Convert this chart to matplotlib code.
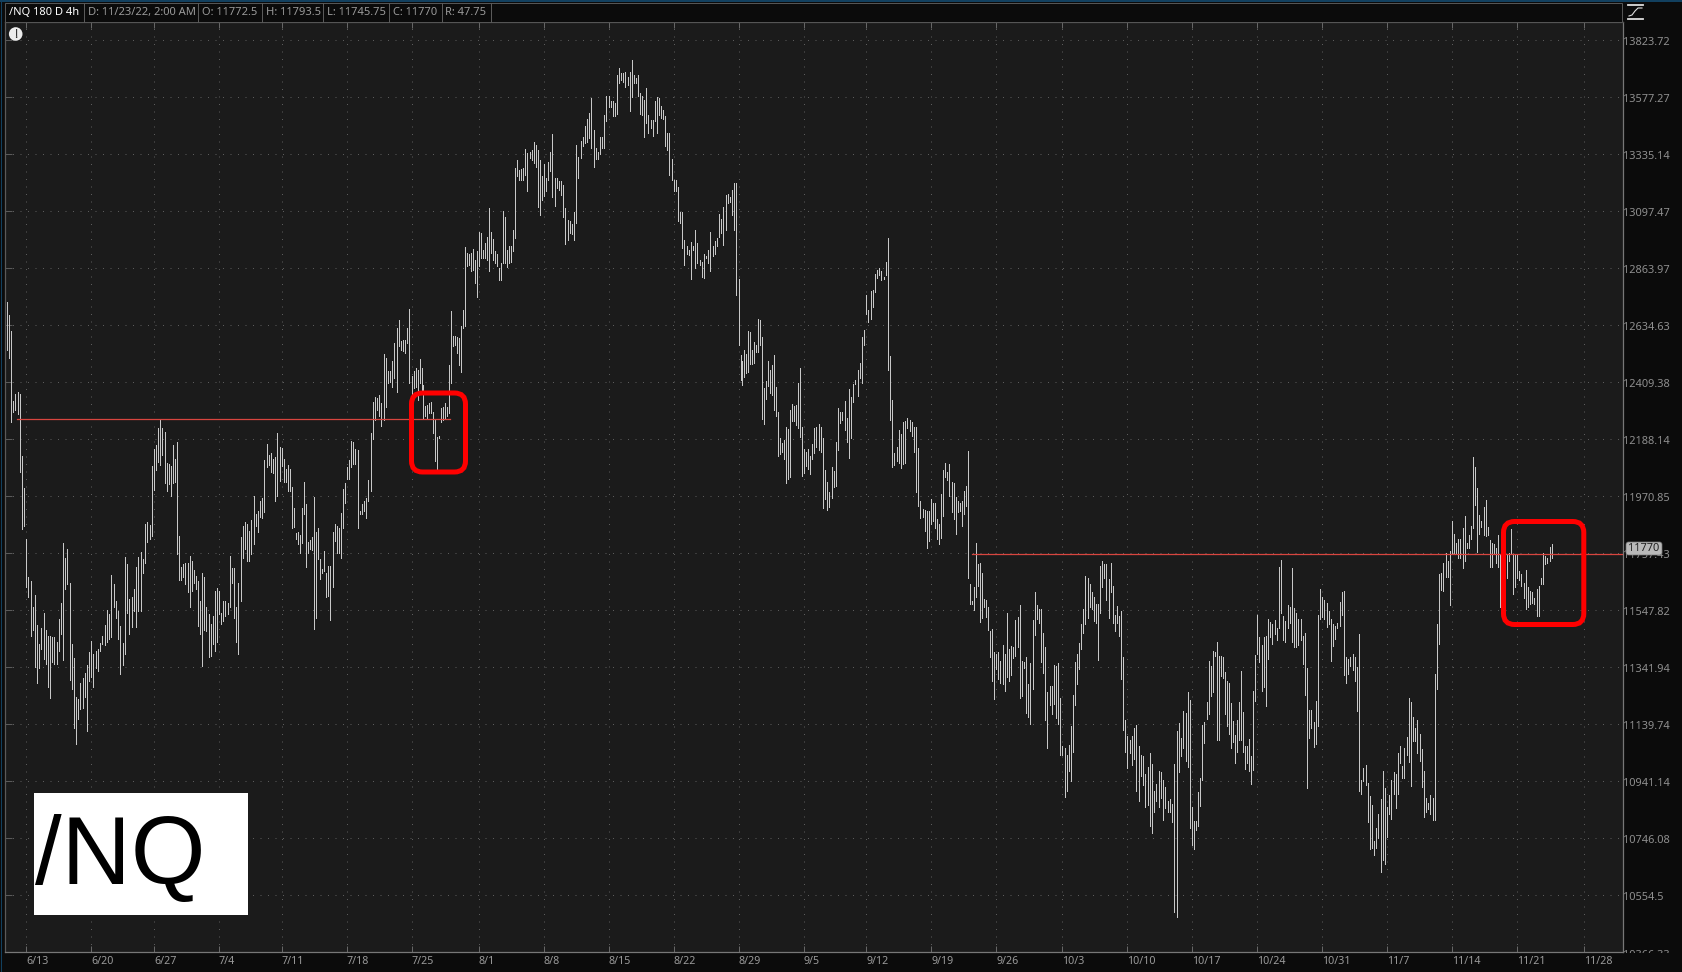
import matplotlib
matplotlib.use("Agg")
from matplotlib import pyplot as plt
from matplotlib import transforms
from matplotlib.lines import Line2D
from matplotlib.patches import Circle, FancyBboxPatch, Rectangle
from matplotlib.transforms import Bbox, ScaledTranslation

W, H = 1683, 972

# (high, low) of the 4h bars, one list per week
bars_pre = [(12727, 12537), (12676, 12504), (12613, 12254), (12336, 12295), (12364, 12302), (12372, 12286),
            (12364, 12063), (12123, 11846), (12002, 11859)]
bars_0613 = [(11810, 11631), (11670, 11595), (11656, 11456), (11560, 11476), (11604, 11343), (11494, 11284),
             (11426, 11341), (11483, 11408), (11536, 11371), (11476, 11355), (11456, 11270), (11456, 11234),
             (11452, 11359), (11450, 11355), (11432, 11353), (11516, 11399), (11574, 11462), (11795, 11368),
             (11739, 11625), (11772, 11643), (11646, 11296), (11426, 11266), (11374, 11128), (11236, 11069),
             (11228, 11160), (11287, 11193), (11305, 11196), (11323, 11236), (11350, 11116), (11397, 11292)]
bars_0620 = [(11437, 11307), (11389, 11272), (11401, 11341), (11407, 11329), (11428, 11399), (11456, 11426),
             (11495, 11423), (11548, 11432), (11533, 11444), (11676, 11452), (11643, 11558), (11582, 11521),
             (11545, 11444), (11491, 11319), (11429, 11350), (11743, 11389), (11716, 11536), (11588, 11462),
             (11595, 11486), (11625, 11545), (11706, 11486), (11743, 11545), (11763, 11545), (11735, 11683),
             (11866, 11723), (11873, 11801), (11863, 11810), (12085, 11823)]
bars_0627 = [(12149, 11995), (12165, 12069), (12231, 12101), (12263, 12089), (12231, 12127), (12214, 12020),
             (12098, 11991), (12095, 12017), (12085, 11970), (12166, 12020), (12114, 12024), (12176, 11754),
             (11820, 11658), (11708, 11658), (11716, 11668), (11723, 11643), (11723, 11613), (11747, 11560),
             (11729, 11619), (11694, 11649), (11673, 11625), (11656, 11491), (11582, 11460), (11684, 11347),
             (11670, 11476), (11558, 11474), (11533, 11378), (11497, 11382), (11527, 11426), (11619, 11399),
             (11628, 11432)]
bars_0704 = [(11619, 11533), (11539, 11497), (11582, 11509), (11582, 11527), (11576, 11533), (11747, 11558),
             (11704, 11649), (11704, 11521), (11560, 11432), (11649, 11389), (11816, 11582), (11860, 11741),
             (11875, 11772), (11866, 11729), (11841, 11729), (11881, 11754), (11972, 11791), (11904, 11858),
             (11916, 11835), (11951, 11891), (11966, 11889), (12108, 11910), (12170, 12080), (12127, 12089),
             (12134, 12063), (12114, 12057), (12121, 11951), (12211, 11972), (12160, 12030)]
bars_0711 = [(12153, 12085), (12114, 12024), (12075, 12024), (12088, 11992), (12075, 11992), (12007, 11850),
             (11928, 11856), (11833, 11810), (11835, 11791), (11825, 11757), (11928, 11797), (12024, 11903),
             (11941, 11708), (11801, 11757), (11808, 11772), (11816, 11769), (11968, 11478), (11835, 11521),
             (11853, 11735), (11735, 11662), (11698, 11686), (11766, 11692), (11686, 11598), (11710, 11600),
             (11710, 11511), (11835, 11631), (11866, 11803), (11860, 11760), (11853, 11760), (11909, 11739),
             (11998, 11853), (12021, 11947)]
bars_0718 = [(12082, 12037), (12110, 12037), (12183, 12082), (12179, 12095), (12149, 12095), (12147, 11853),
             (11916, 11903), (11941, 11903), (11953, 11916), (11966, 11888), (12034, 11951), (12211, 11989),
             (12333, 12188), (12353, 12263), (12346, 12301), (12359, 12276), (12327, 12240), (12520, 12263),
             (12504, 12314), (12452, 12408), (12452, 12412), (12491, 12390), (12564, 12425), (12623, 12373),
             (12656, 12551), (12570, 12537), (12577, 12531), (12577, 12524), (12623, 12564), (12698, 12405)]
bars_0725 = [(12434, 12353), (12452, 12386), (12465, 12392), (12458, 12340), (12500, 12405), (12465, 12373),
             (12399, 12266), (12316, 12276), (12320, 12266), (12327, 12288), (12333, 12288), (12295, 12211),
             (12263, 12105), (12198, 12069), (12201, 12192), (12307, 12256), (12314, 12263), (12330, 12269),
             (12314, 12276), (12478, 12288), (12692, 12405), (12590, 12551), (12590, 12557), (12587, 12524),
             (12584, 12478), (12630, 12448), (12696, 12623), (12949, 12630), (12925, 12871), (12922, 12878),
             (12925, 12851), (12941, 12857), (12898, 12804), (12935, 12747)]
bars_0801 = [(13011, 12871), (13007, 12905), (12939, 12905), (12966, 12905), (12993, 12898), (13110, 12851),
             (13011, 12925), (12982, 12898), (12932, 12884), (12922, 12871), (12864, 12817), (12884, 12815),
             (13097, 12884), (13075, 12884), (12939, 12867), (12953, 12884), (12953, 12891), (13018, 12932),
             (13277, 12989), (13311, 13242), (13269, 13225), (13272, 13228), (13277, 13228), (13358, 13249),
             (13339, 13183), (13346, 13318), (13353, 13311), (13385, 13297), (13375, 13283), (13353, 13116),
             (13311, 13082), (13242, 13144)]
bars_0808 = [(13293, 13161), (13235, 13179), (13304, 13228), (13346, 13263), (13421, 13158), (13235, 13119),
             (13235, 13193), (13221, 13186), (13224, 13165), (13204, 13075), (13110, 12961), (13059, 12979),
             (13055, 13007), (13045, 13004), (13092, 12979), (13375, 13048), (13325, 13235), (13389, 13318),
             (13407, 13368), (13455, 13382), (13483, 13385), (13509, 13403), (13573, 13361), (13438, 13283),
             (13361, 13314), (13346, 13314), (13407, 13336), (13407, 13361), (13499, 13361), (13580, 13474)]
bars_0815 = [(13580, 13537), (13559, 13537), (13559, 13498), (13552, 13495), (13672, 13506), (13704, 13636),
             (13682, 13651), (13679, 13643), (13686, 13622), (13665, 13630), (13685, 13520), (13738, 13577),
             (13672, 13636), (13658, 13636), (13672, 13580), (13597, 13506), (13580, 13502), (13566, 13407),
             (13615, 13467), (13502, 13424), (13481, 13445), (13481, 13410), (13559, 13474), (13577, 13424),
             (13573, 13502), (13540, 13488), (13523, 13484), (13498, 13368), (13424, 13353), (13424, 13249),
             (13314, 13228)]
bars_0822 = [(13228, 13179), (13225, 13179), (13197, 13055), (13092, 13048), (13092, 12946), (12979, 12875),
             (12953, 12922), (12939, 12919), (12969, 12821), (12953, 12939), (13021, 12864), (12966, 12884),
             (12898, 12878), (12891, 12830), (12922, 12823), (12912, 12905), (12939, 12884), (13011, 12851),
             (12953, 12912), (12973, 12922), (12987, 12953), (13086, 12991), (13066, 13007), (13116, 12960),
             (13165, 13021), (13168, 13130), (13158, 13137), (13184, 13080), (13215, 13020), (13215, 12757)]
bars_0829 = [(12820, 12557), (12517, 12418), (12493, 12399), (12537, 12431), (12520, 12445), (12613, 12448),
             (12609, 12482), (12537, 12482), (12568, 12484), (12557, 12530), (12660, 12530), (12656, 12557),
             (12587, 12267), (12386, 12247), (12414, 12343), (12493, 12396), (12458, 12366), (12478, 12360),
             (12517, 12302), (12389, 12276), (12295, 12123), (12192, 12131), (12172, 12140), (12185, 12114),
             (12237, 12022), (12227, 12037), (12302, 12043), (12326, 12257), (12317, 12257), (12319, 12244),
             (12405, 12231), (12464, 12198), (12237, 12046)]
bars_0905 = [(12150, 12060), (12140, 12086), (12150, 12073), (12123, 12056), (12170, 12112), (12231, 12134),
             (12237, 12160), (12246, 12147), (12237, 12140), (12192, 11928), (12069, 11962), (12024, 11918),
             (11988, 11931), (12080, 11966), (12067, 12005), (12179, 12011), (12308, 12147), (12295, 12250),
             (12295, 12263), (12337, 12225), (12270, 12176), (12383, 12117), (12353, 12192), (12401, 12334),
             (12418, 12402), (12458, 12357), (12484, 12425), (12586, 12408), (12616, 12557)]
bars_0912 = [(12757, 12680), (12696, 12649), (12770, 12660), (12777, 12707), (12840, 12766), (12857, 12824),
             (12864, 12837), (12851, 12817), (12830, 12820), (12891, 12837), (12985, 12458), (12513, 12263),
             (12341, 12083), (12134, 12089), (12157, 12106), (12225, 12096), (12209, 12079), (12254, 12093),
             (12257, 12096), (12270, 12231), (12263, 12218), (12254, 12202), (12237, 12140), (12234, 11985),
             (12153, 11934), (11953, 11889), (11922, 11891), (11918, 11841), (11916, 11778), (11916, 11803)]
bars_0919 = [(11960, 11866), (11947, 11879), (11947, 11851), (11886, 11810), (11866, 11791), (11978, 11813),
             (12069, 11897), (12096, 12043), (12063, 12032), (12092, 11972), (12024, 11913), (12022, 11884),
             (11968, 11828), (11953, 11910), (11947, 11916), (11953, 11860), (11989, 11903), (12011, 11934),
             (12142, 11666), (11644, 11570), (11582, 11570), (11634, 11548), (11795, 11595), (11717, 11637),
             (11720, 11506), (11684, 11519), (11588, 11558), (11585, 11524), (11560, 11476), (11472, 11377),
             (11480, 11294), (11395, 11228)]
bars_0926 = [(11389, 11335), (11397, 11300), (11365, 11284), (11422, 11282), (11389, 11256), (11537, 11308),
             (11407, 11292), (11419, 11315), (11413, 11374), (11512, 11383), (11524, 11413), (11566, 11231),
             (11365, 11240), (11359, 11341), (11379, 11180), (11282, 11166), (11356, 11139), (11513, 11266),
             (11615, 11457), (11566, 11516), (11552, 11500), (11552, 11359), (11465, 11323), (11415, 11156),
             (11255, 11056), (11276, 11209), (11274, 11177), (11350, 11211), (11347, 11163), (11356, 11142),
             (11234, 11032)]
bars_1003 = [(11065, 11032), (11056, 10887), (11032, 10906), (11067, 10977), (11132, 10942), (11243, 11044),
             (11359, 11206), (11389, 11282), (11428, 11335), (11496, 11407), (11552, 11464), (11674, 11496),
             (11665, 11521), (11643, 11558), (11615, 11552), (11597, 11510), (11570, 11503), (11570, 11367),
             (11711, 11539), (11729, 11631), (11717, 11665), (11717, 11585), (11664, 11521), (11720, 11613),
             (11636, 11503), (11530, 11472), (11563, 11503), (11527, 11455), (11545, 11300), (11379, 11121),
             (11155, 11043)]
bars_1010 = [(11098, 10987), (11086, 11039), (11098, 10998), (11128, 11018), (11136, 10908), (11065, 10874),
             (11033, 10960), (11030, 10930), (10968, 10851), (10991, 10860), (11040, 10788), (11002, 10765),
             (10908, 10834), (10931, 10874), (10977, 10851), (10973, 10885), (10944, 10808), (10922, 10849),
             (10874, 10837), (10879, 10834), (10862, 10803), (11000, 10500), (11117, 10483), (11144, 10973),
             (11092, 11030), (11187, 11057), (11181, 11010), (11255, 10989), (11225, 10782)]
bars_1017 = [(10851, 10723), (10805, 10711), (10805, 10773), (10905, 10788), (10951, 10857), (11136, 10947),
             (11148, 11075), (11219, 11160), (11365, 11177), (11347, 11238), (11401, 11253), (11395, 11383),
             (11433, 11086), (11383, 11083), (11383, 11311), (11379, 11305), (11326, 11175), (11292, 11134),
             (11284, 11105), (11213, 11056), (11152, 11077), (11103, 11005), (11155, 11042), (11219, 11086),
             (11328, 11086), (11183, 11042), (11065, 10983), (11065, 11005), (11089, 10975), (11030, 10933),
             (11258, 10979), (11386, 11223)]
bars_1024 = [(11530, 11389), (11451, 11361), (11421, 11258), (11451, 11273), (11455, 11205), (11515, 11373),
             (11505, 11449), (11497, 11427), (11512, 11461), (11482, 11439), (11708, 11485), (11733, 11539),
             (11527, 11441), (11509, 11433), (11566, 11485), (11558, 11503), (11703, 11433), (11555, 11415),
             (11538, 11415), (11515, 11421), (11515, 11439), (11455, 11355), (11464, 11244), (11341, 10919),
             (11191, 11093), (11190, 11128), (11146, 11061), (11223, 11072), (11531, 11134), (11626, 11515)]
bars_1031 = [(11596, 11524), (11584, 11515), (11575, 11488), (11546, 11497), (11515, 11365), (11497, 11419),
             (11491, 11445), (11500, 11482), (11577, 11489), (11613, 11531), (11619, 11315), (11379, 11287),
             (11371, 11317), (11379, 11347), (11389, 11333), (11379, 11294), (11343, 11187), (11463, 10907),
             (10944, 10898), (10986, 10942), (10997, 10927), (10934, 10803), (10890, 10710), (10858, 10713),
             (10737, 10690), (10780, 10714), (10828, 10748), (10879, 10634), (10976, 10673), (10917, 10659)]
bars_1107 = [(10851, 10750), (10893, 10828), (10944, 10813), (10973, 10896), (10967, 10848), (11038, 10896),
             (11063, 11003), (10994, 10951), (11056, 10954), (11094, 11032), (11232, 11009), (11219, 10925),
             (11166, 11081), (11125, 11081), (11156, 11040), (11107, 11012), (11052, 10921), (10977, 10819),
             (10885, 10834), (10868, 10845), (10893, 10828), (10885, 10808), (11317, 10808), (11497, 11265),
             (11681, 11425), (11685, 11622), (11720, 11619), (11760, 11669), (11730, 11669), (11766, 11568)]
bars_1114 = [(11878, 11753), (11828, 11753), (11797, 11753), (11810, 11739), (11810, 11741), (11851, 11701),
             (11897, 11727), (11795, 11778), (11825, 11778), (11860, 11810), (12118, 11850), (12082, 11938),
             (12002, 11762), (11901, 11828), (11878, 11856), (11932, 11825), (11956, 11821), (11857, 11825),
             (11807, 11705), (11797, 11707), (11791, 11753), (11776, 11723), (11825, 11705), (11753, 11558),
             (11766, 11527), (11760, 11710), (11751, 11666), (11760, 11729), (11847, 11753), (11753, 11607),
             (11751, 11631)]
bars_1121 = [(11753, 11666), (11691, 11660), (11679, 11637), (11647, 11594), (11697, 11552), (11631, 11558),
             (11619, 11570), (11613, 11576), (11594, 11570), (11625, 11527), (11637, 11527), (11666, 11643),
             (11757, 11643), (11747, 11719), (11741, 11722), (11781, 11729), (11791, 11741)]

week_labels = ["6/13", "6/20", "6/27", "7/4", "7/11", "7/18", "7/25", "8/1", "8/8", "8/15", "8/22", "8/29", "9/5",
               "9/12", "9/19", "9/26", "10/3", "10/10", "10/17", "10/24", "10/31", "11/7", "11/14", "11/21", "11/28"]
week_bars = [30, 29, 30, 29, 30, 30, 31, 30, 30, 30, 30, 30, 29, 30, 30, 30.6, 30, 30, 30, 30, 30, 30, 30, 31]

price_ticks = [13823.72, 13577.27, 13335.14, 13097.47, 12863.97, 12634.63, 12409.38, 12188.14, 11970.85,
               11757.43, 11547.82, 11341.94, 11139.74, 10941.14, 10746.08, 10554.5]
price_labels = ["13823.72", "13577.27", "13335.14", "13097.47", "12863.97", "12634.63", "12409.38", "12188.14",
                "11970.85", "11757.43", "11547.82", "11341.94", "11139.74", "10941.14", "10746.08", "10554.5"]
last_label = "10366.33"
last_price = "11770"

level_left = 12265
level_right = 11754

header = [("/NQ 180 D 4h", 9), ("D: 11/23/22, 2:00 AM", 88), ("O: 11772.5", 202), ("H: 11793.5", 266),
          ("L: 11745.75", 327), ("C: 11770", 393), ("R: 47.75", 445)]
header_edges = [84, 198, 262, 323, 389, 442, 490.7]

all_weeks = [bars_0613, bars_0620, bars_0627, bars_0704, bars_0711, bars_0718, bars_0725, bars_0801, bars_0808,
             bars_0815, bars_0822, bars_0829, bars_0905, bars_0912, bars_0919, bars_0926, bars_1003, bars_1010,
             bars_1017, bars_1024, bars_1031, bars_1107, bars_1114, bars_1121]

fig = plt.figure(figsize=(W / 100, H / 100), dpi=100, facecolor="#0b0b0b")
plt.rcParams["font.family"] = ["Noto Sans", "DejaVu Sans"]
# screen pixels, y going down
screen = transforms.Affine2D().scale(1, -1).translate(0, H)

ax = fig.add_axes([5 / W, 1 - 951.5 / H, (1622.7 - 5) / W, (951.5 - 22) / H], facecolor="#1b1b1b")

# bar positions: one unit is one 4h bar, each week starts on its tick
week_starts = [0]
for n in week_bars:
    week_starts.append(week_starts[-1] + n)

xs, highs, lows = [], [], []
for j, (h, l) in enumerate(bars_pre):
    xs.append(j - len(bars_pre))
    highs.append(h)
    lows.append(l)
for w, week in enumerate(all_weeks):
    step = week_bars[w] / len(week) if w < len(all_weeks) - 1 else 1.0
    for j, (h, l) in enumerate(week):
        xs.append(week_starts[w] + j * step)
        highs.append(h)
        lows.append(l)

ax.set_yscale("log")
ax.set_ylim(10369, 13903)
ax.set_xlim(-9.84, 737.4)

ax.vlines(xs, lows, highs, colors="#c8c8c8", linewidth=0.72, antialiased=False, zorder=3)

ax.plot([-4.3, 195.7], [level_left, level_left], color="#d8453f", lw=0.9, zorder=4)
ax.plot([436.8, 737.4], [level_right, level_right], color="#d8453f", lw=0.9, zorder=4)

ax.minorticks_off()
ax.set_yticks(price_ticks)
ax.set_yticklabels(price_labels)
ax.yaxis.set_minor_locator(plt.NullLocator())
ax.set_xticks(week_starts)
ax.set_xticklabels(week_labels, ha="left")
ax.tick_params(axis="y", left=True, right=False, labelleft=False, labelright=True, direction="in", length=5,
               width=0.72, color="#5a5a5a", labelcolor="#8f8f8f", labelsize=7.9, pad=0.5)
ax.tick_params(axis="x", bottom=True, top=True, direction="in", length=4, width=0.72, color="#666666",
               labelcolor="#9a9a9a", labelsize=7.7, pad=3)
ax.grid(True, color="#5c5c5c", linewidth=0.72, linestyle=(0, (1, 6.5)))
ax.set_axisbelow(True)
for side, col in [("left", "#5a5a5a"), ("right", "#777777"), ("bottom", "#777777"), ("top", "#555555")]:
    ax.spines[side].set_color(col)
    ax.spines[side].set_linewidth(0.9)

# price labels sit one pixel lower than the grid lines
one_down = ScaledTranslation(0, -1 / 100, fig.dpi_scale_trans)
for label in ax.get_yticklabels():
    label.set_transform(label.get_transform() + one_down)

# clipped label at the bottom of the price axis
t = fig.text(1623.5 / W, 1 - 955.5 / H, last_label, color="#8f8f8f", fontsize=7.9, va="center")
t.set_clip_box(Bbox([[1623, H - 953], [W, H - 940]]))
t.set_clip_on(True)

# window frame and header strip
fig.add_artist(Rectangle((1, 0), 1.3, H, transform=screen, facecolor="#12405f", edgecolor="none"))
fig.add_artist(Rectangle((0, 0), W, 1.5, transform=screen, facecolor="#12405f", edgecolor="none"))
fig.add_artist(Rectangle((5, 3), 1617, 19, transform=screen, facecolor="#0b0b0b", edgecolor="#555555", lw=0.72))
for edge in header_edges:
    fig.add_artist(Line2D([edge, edge], [3, 22], transform=screen, color="#5a5a5a", lw=0.72))
for i, (txt, px) in enumerate(header):
    fig.text(px / W, 1 - 12.5 / H, txt, fontsize=8, va="center", color="#ffffff" if i == 0 else "#9a9a9a",
             fontweight="bold" if i == 0 else "normal")

# study icon, top right
fig.add_artist(Line2D([1628, 1643], [5, 5], transform=screen, color="#dddddd", lw=1.3))
fig.add_artist(Line2D([1628, 1643], [19, 19], transform=screen, color="#dddddd", lw=1.3))
fig.add_artist(Line2D([1629, 1632, 1635, 1638, 1642], [16, 15, 11, 8, 8], transform=screen, color="#dddddd", lw=0.8))

# alert icon
fig.add_artist(Circle((15.7, 34), 6.8, transform=screen, facecolor="#ececec", edgecolor="none"))
fig.text(15.7 / W, 1 - 34 / H, "!", fontsize=9, fontweight="bold", color="#1b1b1b", ha="center", va="center",
         zorder=6)

# hand drawn red boxes
for x0, y0, x1, y1 in [(411.5, 393, 465.5, 472), (1503.5, 521.5, 1583.8, 624.5)]:
    fig.add_artist(FancyBboxPatch((x0, y0), x1 - x0, y1 - y0, boxstyle="round,pad=0,rounding_size=11",
                                  transform=screen, facecolor="none", edgecolor="#ff0000", lw=3.6, zorder=5))

# last price tag
fig.add_artist(FancyBboxPatch((1626, 542), 36, 13, boxstyle="round,pad=0,rounding_size=2.5", transform=screen,
                              facecolor="#b9b9b9", edgecolor="#777777", lw=0.5, zorder=6))
fig.text(1644 / W, 1 - 548.5 / H, last_price, fontsize=7.9, color="#222222", ha="center", va="center", zorder=7)

# symbol label
fig.add_artist(Rectangle((34, 793), 214, 121.5, transform=screen, facecolor="white", edgecolor="none", zorder=5))
fig.text(35 / W, 1 - 884 / H, "/NQ", fontsize=69, family="Liberation Sans", color="black", va="baseline", zorder=6)

fig.savefig("out.png", dpi=100, facecolor=fig.get_facecolor())
